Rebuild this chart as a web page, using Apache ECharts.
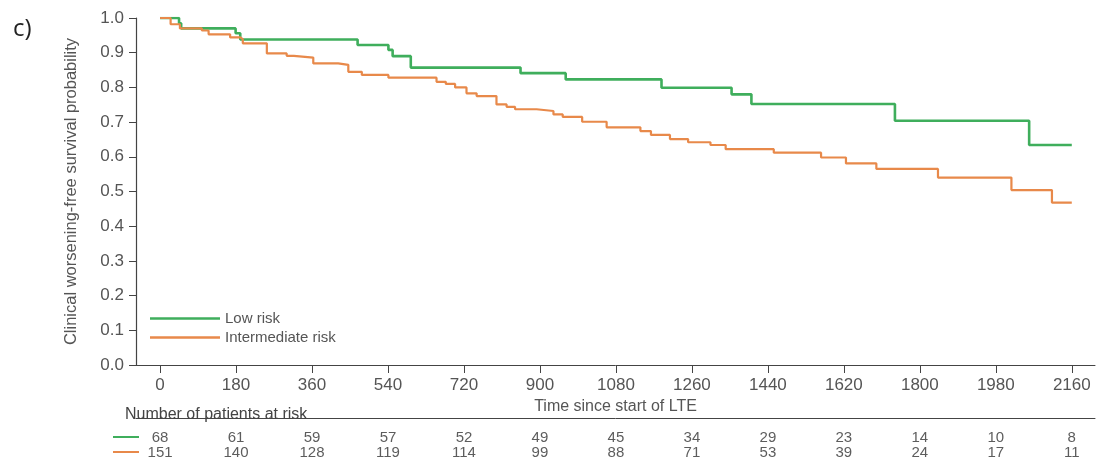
<!DOCTYPE html>
<html>
<head>
<meta charset="utf-8">
<script src="https://cdn.jsdelivr.net/npm/echarts@6/dist/echarts.min.js"></script>
<style>
  html, body { margin: 0; padding: 0; background: #fff; }
  #chart { width: 1098px; height: 463px; }
</style>
</head>
<body>
<div id="chart"></div>
<script>
// Kaplan-Meier steps: [day, survival]
const lowRisk = [
  [0, 1.0], [45, 0.985], [50, 0.970], [179, 0.956], [190, 0.938], [468, 0.922],
  [541, 0.908], [551, 0.890], [594, 0.857], [854, 0.841], [961, 0.823],
  [1188, 0.799], [1354, 0.780], [1401, 0.752], [1741, 0.704], [2059, 0.634],
  [2160, 0.634]
];
const intermediateRisk = [
  [0, 1.0], [25, 0.982], [47, 0.970], [99, 0.964], [115, 0.953], [166, 0.944],
  [190, 0.939], [196, 0.927], [253, 0.898], [300, 0.891], [317, 0.886],
  [363, 0.869], [422, 0.865], [446, 0.845], [478, 0.836], [541, 0.828],
  [655, 0.816], [677, 0.810], [699, 0.800], [726, 0.783], [750, 0.775],
  [797, 0.751], [821, 0.744], [841, 0.737], [892, 0.732], [932, 0.722],
  [954, 0.715], [1000, 0.701], [1058, 0.685], [1138, 0.674], [1163, 0.663],
  [1208, 0.651], [1251, 0.642], [1304, 0.634], [1340, 0.622], [1454, 0.612],
  [1566, 0.598], [1625, 0.581], [1697, 0.565], [1843, 0.540], [2017, 0.504],
  [2113, 0.468], [2160, 0.468]
];
const timeTicks = [0, 180, 360, 540, 720, 900, 1080, 1260, 1440, 1620, 1800, 1980, 2160];
const atRiskLow = [68, 61, 59, 57, 52, 49, 45, 34, 29, 23, 14, 10, 8];
const atRiskIntermediate = [151, 140, 128, 119, 114, 99, 88, 71, 53, 39, 24, 17, 11];

const X_MIN = -57, X_MAX = 2215;
const GREEN = '#3fae5c';
const ORANGE = '#e8894a';
const TXT = '#555';
const AXIS = '#444';
const FONT = 'Liberation Sans, Arial, sans-serif';

const riskRows = [];
timeTicks.forEach((t, i) => {
  riskRows.push([t, 1, atRiskLow[i]]);
  riskRows.push([t, 2, atRiskIntermediate[i]]);
});

const chart = echarts.init(document.getElementById('chart'));
const option = {
  animation: false,
  textStyle: { fontFamily: FONT },
  title: [
    { text: 'c)', left: 8, top: 12, textStyle: { fontSize: 24, fontWeight: 'normal', color: '#222', fontFamily: 'Open Sans, sans-serif' } },
    { text: 'Number of patients at risk', left: 120, top: 402, textStyle: { fontSize: 16, fontWeight: 'normal', color: '#444' } }
  ],
  legend: {
    orient: 'vertical',
    left: 145,
    top: 306,
    icon: 'rect',
    itemWidth: 70,
    itemHeight: 2.5,
    itemGap: 4,
    textStyle: { fontSize: 15, color: TXT, lineHeight: 15 },
    data: ['Low risk', 'Intermediate risk']
  },
  grid: [
    { left: 136, right: 3, top: 18, bottom: 98 },
    { left: 136, right: 3, top: 418, height: 45 }
  ],
  xAxis: [
    {
      type: 'value', min: X_MIN, max: X_MAX,
      name: 'Time since start of LTE', nameLocation: 'middle', nameGap: 30,
      nameTextStyle: { fontSize: 16, color: TXT },
      axisLine: { lineStyle: { color: AXIS, width: 1 } },
      axisTick: { customValues: timeTicks, length: 8, lineStyle: { color: AXIS } },
      axisLabel: { customValues: timeTicks, fontSize: 17, color: TXT, margin: 12, formatter: v => String(v) },
      splitLine: { show: false }
    },
    {
      gridIndex: 1, type: 'value', min: X_MIN, max: X_MAX, position: 'top',
      axisLine: { show: true, onZero: false, lineStyle: { color: AXIS, width: 1 } },
      axisTick: { show: false }, axisLabel: { show: false }, splitLine: { show: false }
    }
  ],
  yAxis: [
    {
      type: 'value', min: 0, max: 1, interval: 0.1,
      name: 'Clinical worsening-free survival probability', nameLocation: 'middle', nameGap: 56,
      nameTextStyle: { fontSize: 16.5, color: TXT },
      axisLine: { show: true, onZero: false, lineStyle: { color: AXIS, width: 1.2 } },
      axisTick: { show: true, length: 7, lineStyle: { color: AXIS } },
      axisLabel: { fontSize: 17, color: TXT, margin: 12, formatter: v => v.toFixed(1) },
      splitLine: { show: false }
    },
    {
      gridIndex: 1, type: 'value', inverse: true, min: -0.34, max: 2.66, show: false
    }
  ],
  graphic: [
    { type: 'line', shape: { x1: 113, y1: 437, x2: 139, y2: 437 }, style: { stroke: GREEN, lineWidth: 2 } },
    { type: 'line', shape: { x1: 113, y1: 452, x2: 139, y2: 452 }, style: { stroke: ORANGE, lineWidth: 2 } }
  ],
  series: [
    {
      name: 'Low risk', type: 'line', step: 'end', symbol: 'none', data: lowRisk,
      lineStyle: { color: GREEN, width: 2.6 }, itemStyle: { color: GREEN }, z: 3
    },
    {
      name: 'Intermediate risk', type: 'line', step: 'end', symbol: 'none', data: intermediateRisk,
      lineStyle: { color: ORANGE, width: 2.2 }, itemStyle: { color: ORANGE }, z: 4
    },
    {
      type: 'scatter', xAxisIndex: 1, yAxisIndex: 1, data: riskRows,
      symbolSize: 1, itemStyle: { color: 'rgba(0,0,0,0)' }, silent: true,
      label: { show: true, position: 'inside', fontSize: 15, color: '#333', formatter: p => p.value[2] }
    }
  ]
};
chart.setOption(option);
window.addEventListener('resize', () => chart.resize());
</script>
</body>
</html>
